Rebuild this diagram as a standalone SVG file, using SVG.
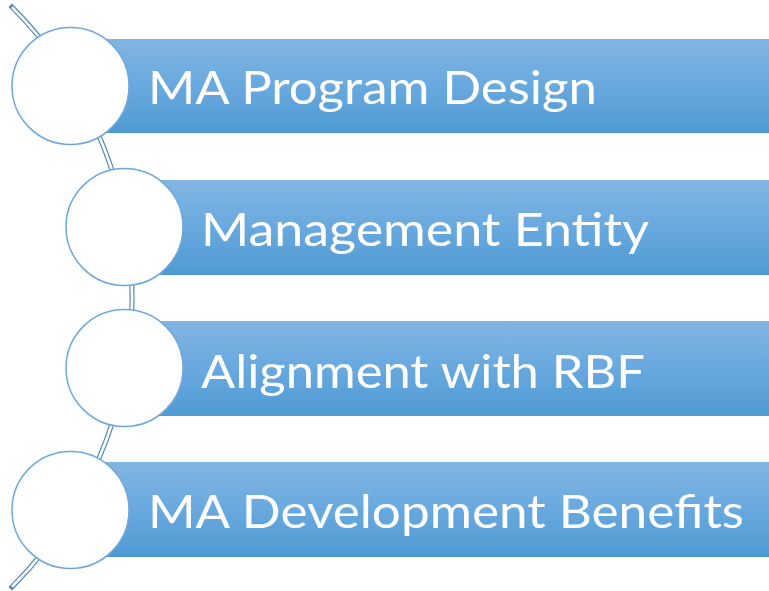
<svg xmlns="http://www.w3.org/2000/svg" width="769" height="591" viewBox="0 0 769 591">
  <defs>
    <linearGradient id="barGrad" x1="0" y1="0" x2="0" y2="1">
      <stop offset="0" stop-color="#83b5e2"/>
      <stop offset="0.5" stop-color="#68a9df"/>
      <stop offset="1" stop-color="#4f9ad3"/>
    </linearGradient>
  </defs>
  <style>
    .bar { fill: url(#barGrad); }
    .circ { fill: #ffffff; stroke: #6fa8dc; stroke-width: 1.5; }
    .lbl { fill: #ffffff; font-family: Lato, "Open Sans", "Liberation Sans", sans-serif; font-size: 47px; }
    .arcOuter { fill: none; stroke: #5487bb; stroke-width: 5; stroke-linecap: square; }
    .arcInner { fill: none; stroke: #ffffff; stroke-width: 2.6; stroke-linecap: butt; }
  </style>
  <g id="connectors">
    <path class="arcOuter" d="M 12 7.1 A 410 410 0 0 1 12 586.9"/>
    <path class="arcInner" d="M 12 7.1 A 410 410 0 0 1 12 586.9"/>
  </g>
  <g id="node1">
    <rect class="bar" x="70" y="39" width="699" height="94"/>
    <circle class="circ" cx="70.5" cy="86" r="58.5"/>
    <text class="lbl" x="148" y="104" textLength="449" lengthAdjust="spacingAndGlyphs">MA Program Design</text>
  </g>
  <g id="node2">
    <rect class="bar" x="124" y="180" width="645" height="95"/>
    <circle class="circ" cx="124.5" cy="227" r="58.5"/>
    <text class="lbl" x="201" y="246" textLength="448" lengthAdjust="spacingAndGlyphs">Management Entity</text>
  </g>
  <g id="node3">
    <rect class="bar" x="124" y="321" width="645" height="95"/>
    <circle class="circ" cx="124.5" cy="368" r="58.5"/>
    <text class="lbl" x="201" y="388" textLength="444" lengthAdjust="spacingAndGlyphs">Alignment with RBF</text>
  </g>
  <g id="node4">
    <rect class="bar" x="70" y="462" width="699" height="95"/>
    <circle class="circ" cx="70.5" cy="510" r="58.5"/>
    <text class="lbl" x="148" y="528" textLength="596" lengthAdjust="spacingAndGlyphs">MA Development Benefits</text>
  </g>
</svg>
